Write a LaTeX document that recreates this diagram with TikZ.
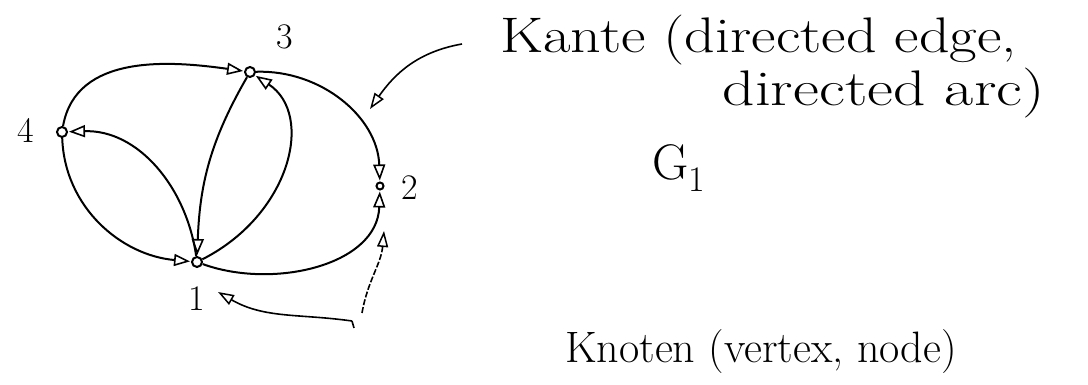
\documentclass[tikz,border=0pt]{standalone}
\usepackage{graphicx}
\usetikzlibrary{arrows.meta}
\begin{document}
\begin{tikzpicture}[x=1pt,y=1pt,
  vtx/.style={circle,draw,line width=2pt,minimum size=10pt,inner sep=0pt,fill=white},
  arc/.style={line width=2pt,-{Triangle[open,length=16pt,width=12pt,line width=1.6pt]},shorten >=1pt},
  note/.style={line width=1.6pt,-{Triangle[open,length=16pt,width=11pt,line width=1.5pt]}},
  lbl/.style={font=\fontsize{36}{40}\selectfont},
  txt/.style={font=\fontsize{50}{56}\selectfont,inner sep=0pt}]
\useasboundingbox (0,0) rectangle (1088,385);
% vertices
\node[vtx] (n1) at (197,123) {};
\node[vtx,minimum size=7pt] (n2) at (380,199) {};
\node[vtx] (n3) at (250,313) {};
\node[vtx] (n4) at (62,253) {};
% vertex labels
\node[lbl] (l1) at (197,86) {1};
\node[lbl] (l2) at (410,197) {2};
\node[lbl] (l3) at (285,348) {3};
\node[lbl] (l4) at (26,255) {4};
% edges
\draw[arc] (n4) to[out=80,in=172] (n3);
\draw[arc] (n1) to[out=98,in=2] (n4);
\draw[arc] (n4) to[out=-88,in=175] (n1);
\draw[arc] (n3) to[out=-120,in=88] (n1);
\draw[arc] (n1) .. controls (290,170) and (315,270) .. (n3);
\draw[arc] (n3) to[out=2,in=92] (n2);
\draw[arc] (n1) to[out=-20,in=-92] (n2);
% annotations
\coordinate (ka) at (462,341);
\coordinate (kb) at (370,276);
\draw[note] (ka) to[out=190,in=55] (kb);
\coordinate (th) at (354,57);
\coordinate (ta) at (352,64);
\coordinate (tb) at (218,93);
\coordinate (tc) at (362,72);
\coordinate (td) at (384,154);
\draw[line width=1.6pt] (th) -- (ta);
\draw[note] (ta) to[out=172,in=-30] (tb);
\draw[note,dash pattern=on 6pt off 2pt] (tc) to[out=80,in=-95] (td);
% texts
\node[txt,anchor=west] (kante1) at (500,345) {\scalebox{1.2}[1]{Kante (directed edge,}};
\node[txt,anchor=east] (kante2) at (1045,292) {\scalebox{1.27}[1]{directed arc)}};
\node[txt,anchor=base west] (g1) at (652,205) {G\raisebox{-12pt}{\fontsize{36}{40}\selectfont 1}};
\node[txt,anchor=west,font=\fontsize{44}{50}\selectfont] (knoten) at (565,33) {Knoten (vertex, node)};
\end{tikzpicture}
\end{document}
